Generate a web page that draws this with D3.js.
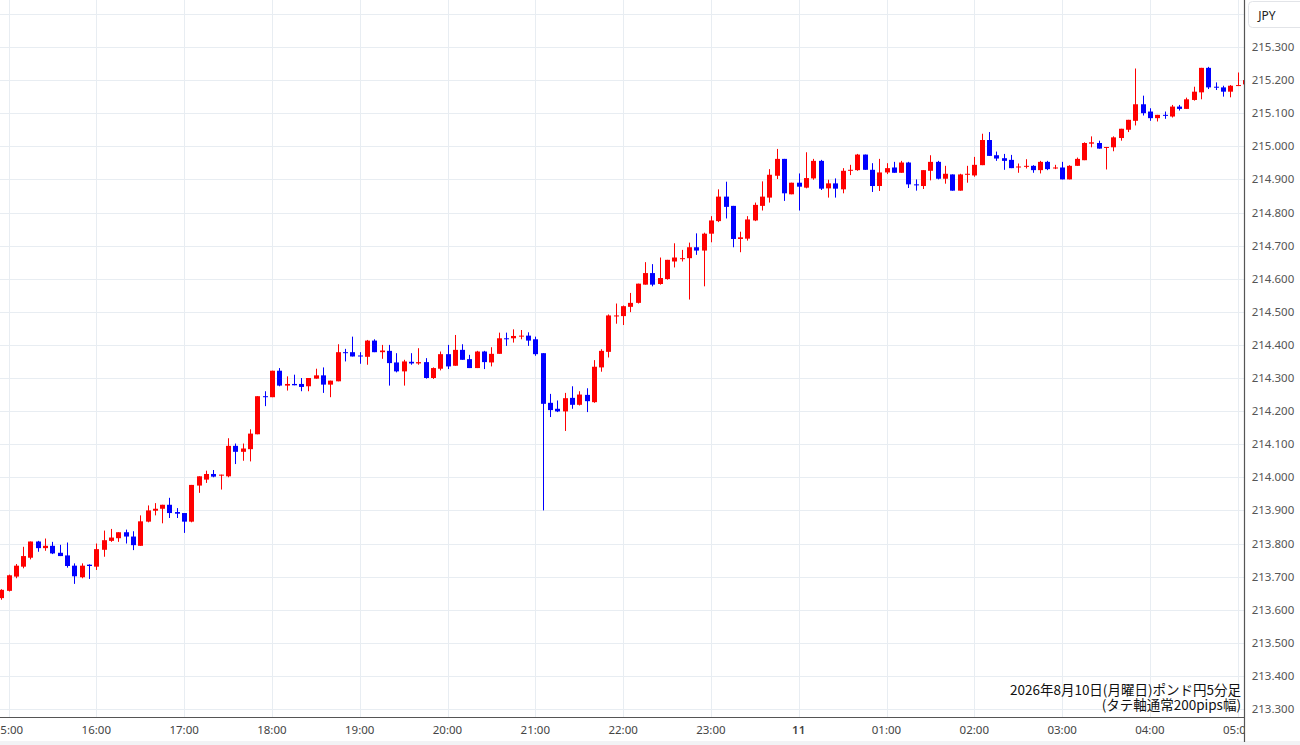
<html>
<head>
<meta charset="utf-8">
<script src="https://d3js.org/d3.v7.min.js"></script>
<style>
  body { margin: 0; background: #fff; }
  svg { display: block; }
  .grid line { stroke: #e8edf2; stroke-width: 1; }
  .xlab text { font-family: "Noto Sans", "Open Sans", sans-serif; font-size: 11.5px; fill: #444; }
  .ylab text { font-family: "Noto Sans", "Open Sans", sans-serif; font-size: 11.5px; fill: #555; }
</style>
</head>
<body>
<svg id="chart" width="1300" height="745"></svg>
<script>
// 5-minute candles, first one at 14:55 on 2026-08-10
const firstTime = new Date(2026, 7, 10, 14, 55);

const opens = [
  213.635, 213.657, 213.700, 213.730, 213.757, 213.806, 213.786, 213.793, 213.772, 213.764,
  213.733, 213.698, 213.736, 213.730, 213.781, 213.808, 213.816, 213.834, 213.821, 213.793,
  213.866, 213.899, 213.905, 213.917, 213.895, 213.892, 213.866, 213.975, 213.993, 214.010,
  214.005, 214.003, 214.095, 214.077, 214.085, 214.130, 214.245, 214.242, 214.322, 214.277,
  214.282, 214.282, 214.275, 214.298, 214.308, 214.280, 214.290, 214.378, 214.378, 214.368,
  214.364, 214.413, 214.378, 214.382, 214.347, 214.320, 214.349, 214.344, 214.348, 214.300,
  214.328, 214.372, 214.337, 214.385, 214.357, 214.330, 214.380, 214.347, 214.373, 214.420,
  214.420, 214.425, 214.428, 214.417, 214.375, 214.225, 214.207, 214.199, 214.240, 214.219,
  214.249, 214.227, 214.332, 214.379, 214.486, 214.487, 214.515, 214.527, 214.582, 214.617,
  214.584, 214.599, 214.652, 214.659, 214.662, 214.695, 214.685, 214.736, 214.774, 214.848,
  214.820, 214.720, 214.721, 214.776, 214.820, 214.845, 214.911, 214.962, 214.855, 214.890,
  214.875, 214.903, 214.956, 214.873, 214.888, 214.870, 214.926, 214.928, 214.975, 214.929,
  214.880, 214.921, 214.936, 214.920, 214.951, 214.885, 214.880, 214.926, 214.953, 214.902,
  214.915, 214.866, 214.915, 214.912, 214.943, 215.019, 214.973, 214.964, 214.959, 214.936,
  214.938, 214.941, 214.928, 214.953, 214.933, 214.936, 214.900, 214.941, 214.958, 215.008,
  215.010, 214.995, 214.997, 215.025, 215.050, 215.077, 215.127, 215.105, 215.085, 215.095,
  215.090, 215.120, 215.113, 215.140, 215.163, 215.237, 215.180, 215.178, 215.165, 215.182,
  215.187
];
const highs = [
  213.662, 213.706, 213.738, 213.790, 213.806, 213.808, 213.815, 213.805, 213.796, 213.803,
  213.740, 213.740, 213.737, 213.800, 213.839, 213.844, 213.834, 213.842, 213.837, 213.885,
  213.915, 213.922, 213.917, 213.938, 213.907, 213.892, 213.977, 214.003, 214.020, 214.022,
  214.008, 214.118, 214.102, 214.102, 214.145, 214.245, 214.260, 214.322, 214.330, 214.305,
  214.310, 214.300, 214.300, 214.328, 214.332, 214.292, 214.402, 214.388, 214.425, 214.378,
  214.415, 214.417, 214.400, 214.400, 214.375, 214.355, 214.375, 214.390, 214.360, 214.332,
  214.380, 214.400, 214.430, 214.402, 214.370, 214.382, 214.382, 214.393, 214.437, 214.437,
  214.447, 214.445, 214.438, 214.425, 214.375, 214.252, 214.232, 214.255, 214.275, 214.260,
  214.269, 214.354, 214.387, 214.492, 214.525, 214.519, 214.557, 214.585, 214.650, 214.644,
  214.664, 214.657, 214.707, 214.687, 214.709, 214.737, 214.739, 214.789, 214.870, 214.893,
  214.820, 214.742, 214.789, 214.830, 214.894, 214.931, 214.992, 214.962, 214.890, 214.918,
  214.982, 214.962, 214.959, 214.899, 214.903, 214.934, 214.944, 214.977, 214.975, 214.949,
  214.962, 214.949, 214.953, 214.956, 214.953, 214.900, 214.928, 214.973, 214.956, 214.941,
  214.915, 214.917, 214.941, 214.968, 215.038, 215.043, 214.984, 214.977, 214.974, 214.948,
  214.961, 214.943, 214.956, 214.956, 214.944, 214.953, 214.943, 214.966, 215.012, 215.030,
  215.017, 214.998, 215.030, 215.053, 215.080, 215.235, 215.153, 215.115, 215.095, 215.105,
  215.125, 215.125, 215.147, 215.180, 215.237, 215.240, 215.193, 215.183, 215.185, 215.223,
  215.210
];
const lows = [
  213.630, 213.655, 213.695, 213.725, 213.752, 213.775, 213.778, 213.768, 213.762, 213.727,
  213.678, 213.695, 213.693, 213.720, 213.760, 213.805, 213.805, 213.800, 213.780, 213.793,
  213.864, 213.885, 213.861, 213.877, 213.877, 213.832, 213.864, 213.953, 213.983, 214.000,
  213.963, 214.000, 214.040, 214.050, 214.048, 214.130, 214.215, 214.242, 214.275, 214.262,
  214.278, 214.260, 214.260, 214.298, 214.255, 214.242, 214.290, 214.350, 214.365, 214.343,
  214.340, 214.378, 214.358, 214.277, 214.317, 214.277, 214.340, 214.340, 214.298, 214.297,
  214.323, 214.327, 214.337, 214.355, 214.330, 214.330, 214.327, 214.335, 214.373, 214.397,
  214.407, 214.417, 214.397, 214.367, 213.900, 214.182, 214.197, 214.140, 214.207, 214.217,
  214.197, 214.225, 214.319, 214.362, 214.464, 214.460, 214.499, 214.525, 214.582, 214.577,
  214.582, 214.597, 214.634, 214.652, 214.537, 214.672, 214.577, 214.710, 214.771, 214.782,
  214.695, 214.680, 214.715, 214.774, 214.806, 214.830, 214.901, 214.835, 214.855, 214.806,
  214.873, 214.899, 214.868, 214.845, 214.845, 214.858, 214.913, 214.926, 214.929, 214.862,
  214.865, 214.916, 214.920, 214.920, 214.874, 214.866, 214.871, 214.897, 214.900, 214.887,
  214.866, 214.866, 214.890, 214.908, 214.943, 214.971, 214.956, 214.929, 214.934, 214.920,
  214.933, 214.920, 214.918, 214.928, 214.931, 214.900, 214.900, 214.941, 214.958, 214.997,
  214.993, 214.930, 214.985, 215.017, 215.043, 215.063, 215.093, 215.077, 215.075, 215.083,
  215.087, 215.108, 215.113, 215.138, 215.142, 215.173, 215.170, 215.150, 215.148, 215.182,
  215.185
];
const closes = [
  213.660, 213.704, 213.733, 213.762, 213.806, 213.786, 213.793, 213.770, 213.762, 213.732,
  213.701, 213.733, 213.732, 213.783, 213.810, 213.818, 213.834, 213.821, 213.795, 213.867,
  213.900, 213.905, 213.917, 213.892, 213.890, 213.866, 213.977, 214.003, 214.010, 214.002,
  214.008, 214.095, 214.077, 214.087, 214.132, 214.245, 214.242, 214.322, 214.277, 214.282,
  214.278, 214.273, 214.300, 214.308, 214.280, 214.292, 214.378, 214.375, 214.365, 214.365,
  214.413, 214.378, 214.383, 214.345, 214.320, 214.350, 214.344, 214.348, 214.300, 214.330,
  214.372, 214.335, 214.385, 214.355, 214.330, 214.380, 214.348, 214.373, 214.420, 214.417,
  214.427, 214.428, 214.413, 214.372, 214.222, 214.203, 214.199, 214.239, 214.219, 214.250,
  214.230, 214.334, 214.382, 214.489, 214.489, 214.517, 214.527, 214.585, 214.617, 214.582,
  214.602, 214.657, 214.664, 214.662, 214.695, 214.685, 214.736, 214.776, 214.848, 214.817,
  214.720, 214.725, 214.779, 214.823, 214.848, 214.914, 214.962, 214.858, 214.890, 214.878,
  214.904, 214.956, 214.872, 214.888, 214.872, 214.926, 214.929, 214.975, 214.929, 214.880,
  214.921, 214.934, 214.920, 214.951, 214.885, 214.882, 214.928, 214.953, 214.902, 214.917,
  214.866, 214.915, 214.917, 214.944, 215.019, 214.971, 214.963, 214.956, 214.934, 214.939,
  214.941, 214.928, 214.953, 214.931, 214.936, 214.900, 214.941, 214.962, 215.010, 215.012,
  214.993, 214.998, 215.027, 215.053, 215.080, 215.127, 215.100, 215.085, 215.095, 215.092,
  215.120, 215.113, 215.142, 215.165, 215.237, 215.178, 215.177, 215.165, 215.183, 215.185,
  215.200
];

const priceTicks = [213.3, 213.4, 213.5, 213.6, 213.7, 213.8, 213.9, 214.0, 214.1, 214.2,
                    214.3, 214.4, 214.5, 214.6, 214.7, 214.8, 214.9, 215.0, 215.1, 215.2, 215.3];
const gridLevels = priceTicks.concat([215.4]);
const titleLines = ["2026年8月10日(月曜日)ポンド円5分足", "(タテ軸通常200pips幅)"];
const currency = "JPY";

const candles = opens.map((o, k) => ({
  t: d3.timeMinute.offset(firstTime, 5 * k),
  o: o, h: highs[k], l: lows[k], c: closes[k]
}));

const svg = d3.select("#chart");
const plotW = 1244, plotH = 717;

const x = d3.scaleTime()
  .domain([new Date(2026, 7, 10, 15, 0), new Date(2026, 7, 11, 5, 0)])
  .range([8.5, 1237.7]);
const y = d3.scaleLinear().domain([213.3, 215.3]).range([709, 47]);

const hours = d3.timeHour.range(new Date(2026, 7, 10, 15, 0), new Date(2026, 7, 11, 5, 1));

svg.append("defs").append("clipPath").attr("id", "plot")
  .append("rect").attr("x", 0).attr("y", 0).attr("width", plotW).attr("height", 745);

// gridlines
const grid = svg.append("g").attr("class", "grid").attr("clip-path", "url(#plot)");
grid.selectAll("line.h").data(gridLevels).join("line").attr("class", "h")
  .attr("x1", 0).attr("x2", plotW)
  .attr("y1", d => Math.round(y(d)) + 0.5).attr("y2", d => Math.round(y(d)) + 0.5);
grid.selectAll("line.v").data(hours).join("line").attr("class", "v")
  .attr("y1", 0).attr("y2", plotH)
  .attr("x1", d => Math.round(x(d)) + 0.5).attr("x2", d => Math.round(x(d)) + 0.5);

// candles
const cg = svg.append("g").attr("clip-path", "url(#plot)");
const col = d => d.c >= d.o ? "#ff0000" : "#0000ff";
cg.selectAll("line.wick").data(candles).join("line").attr("class", "wick")
  .attr("x1", d => Math.round(x(d.t)) + 0.5).attr("x2", d => Math.round(x(d.t)) + 0.5)
  .attr("y1", d => y(d.h)).attr("y2", d => y(d.l))
  .attr("stroke", col).attr("stroke-width", 1);
cg.selectAll("rect.body").data(candles).join("rect").attr("class", "body")
  .attr("x", d => Math.round(x(d.t)) - 2)
  .attr("width", 5)
  .attr("y", d => y(Math.max(d.o, d.c)))
  .attr("height", d => Math.max(1, Math.abs(y(d.o) - y(d.c))))
  .attr("fill", col);

// x axis
svg.append("rect").attr("x", 0).attr("y", 741).attr("width", 1300).attr("height", 4).attr("fill", "#f2f3f5");
svg.append("line").attr("x1", 0).attr("x2", plotW).attr("y1", 717.5).attr("y2", 717.5)
  .attr("stroke", "#555").attr("stroke-width", 1.2);
const xl = svg.append("g").attr("class", "xlab").attr("clip-path", "url(#plot)");
xl.selectAll("text").data(hours).join("text")
  .attr("x", d => x(d)).attr("y", 734)
  .attr("text-anchor", "middle")
  .style("font-weight", d => d.getHours() === 0 ? 600 : 400)
  .text(d => d.getHours() === 0 ? d3.timeFormat("%-d")(d) : d3.timeFormat("%H:%M")(d));

// y axis
svg.append("line").attr("x1", 1244.5).attr("x2", 1244.5).attr("y1", 0).attr("y2", 742)
  .attr("stroke", "#555").attr("stroke-width", 1.2);
const yl = svg.append("g").attr("class", "ylab");
yl.selectAll("text").data(priceTicks).join("text")
  .attr("x", 1273).attr("y", d => y(d) + 4)
  .attr("text-anchor", "middle")
  .text(d => d3.format(".3f")(d));

// currency tag
svg.append("rect").attr("x", 1248.5).attr("y", 1.5).attr("width", 60).attr("height", 26).attr("rx", 4)
  .attr("fill", "#fff").attr("stroke", "#e2e4e8");
svg.append("text").attr("x", 1267).attr("y", 19.5).attr("text-anchor", "middle")
  .style("font-family", "'Noto Sans', sans-serif").style("font-size", "12px").style("fill", "#222")
  .text(currency);

// caption
svg.append("g").selectAll("text").data(titleLines).join("text")
  .attr("x", 1241).attr("y", (d, k) => 695 + k * 15)
  .attr("text-anchor", "end")
  .style("font-family", "'Noto Sans CJK JP', sans-serif").style("font-size", "13.5px").style("fill", "#111")
  .text(d => d);
</script>
</body>
</html>
